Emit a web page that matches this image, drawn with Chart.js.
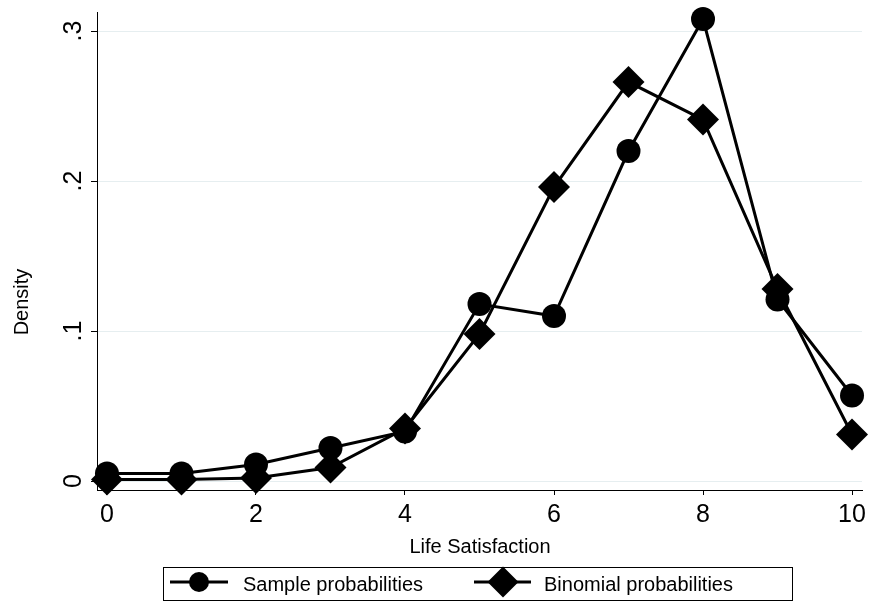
<!DOCTYPE html>
<html>
<head>
<meta charset="utf-8">
<script src="https://cdn.jsdelivr.net/npm/chart.js@4"></script>
<style>
html, body { margin: 0; padding: 0; background: #fff; }
#wrap { width: 869px; height: 601px; }
</style>
</head>
<body>
<div id="wrap"><canvas id="chart" width="869" height="601"></canvas></div>
<script>
const satisfaction = [0, 1, 2, 3, 4, 5, 6, 7, 8, 9, 10];
const sampleProbs = [0.005, 0.005, 0.011, 0.022, 0.033, 0.118, 0.110, 0.220, 0.308, 0.121, 0.057];
const binomialProbs = [0.001, 0.001, 0.002, 0.009, 0.035, 0.098, 0.196, 0.266, 0.241, 0.128, 0.031];
const xTicks = [0, 2, 4, 6, 8, 10];
const yTicks = [0, 0.1, 0.2, 0.3];
const yTickLabels = ['0', '.1', '.2', '.3'];
const seriesNames = ['Sample probabilities', 'Binomial probabilities'];

const FONT = '"Liberation Sans", Arial, Helvetica, sans-serif';

// stata-ish text: rotated y labels, axis titles, boxed legend
const stataText = {
    id: 'stataText',
    afterDraw(chart) {
        const ctx = chart.ctx;
        const yScale = chart.scales.y;
        ctx.save();
        ctx.fillStyle = '#000';
        ctx.strokeStyle = '#000';
        ctx.textAlign = 'center';
        ctx.textBaseline = 'alphabetic';

        ctx.font = '25px ' + FONT;
        yTicks.forEach((v, i) => {
            ctx.save();
            ctx.translate(81, yScale.getPixelForValue(v));
            ctx.rotate(-Math.PI / 2);
            ctx.fillText(yTickLabels[i], 0, 0);
            ctx.restore();
        });

        ctx.font = '20px ' + FONT;
        ctx.save();
        ctx.translate(28, 302);
        ctx.rotate(-Math.PI / 2);
        ctx.fillText('Density', 0, 0);
        ctx.restore();
        ctx.fillText('Life Satisfaction', 480, 553);

        // legend box
        ctx.lineWidth = 1;
        ctx.strokeRect(163.5, 567.5, 629, 33);
        const ly = 582;
        ctx.lineWidth = 3;
        ctx.beginPath();
        ctx.moveTo(170, ly); ctx.lineTo(228, ly);
        ctx.moveTo(474, ly); ctx.lineTo(531, ly);
        ctx.stroke();
        ctx.beginPath();
        ctx.arc(199, ly, 10, 0, Math.PI * 2);
        ctx.fill();
        ctx.beginPath();
        ctx.moveTo(503, ly - 15.5);
        ctx.lineTo(518.5, ly);
        ctx.lineTo(503, ly + 15.5);
        ctx.lineTo(487.5, ly);
        ctx.closePath();
        ctx.fill();
        ctx.textAlign = 'left';
        ctx.fillText(seriesNames[0], 243, 591);
        ctx.fillText(seriesNames[1], 544, 591);
        ctx.restore();
    }
};

const ctx = document.getElementById('chart').getContext('2d');
const chart = new Chart(ctx, {
    type: 'line',
    data: {
        datasets: [{
            label: seriesNames[0],
            data: satisfaction.map((s, i) => ({ x: s, y: sampleProbs[i] })),
            borderColor: '#000',
            backgroundColor: '#000',
            borderWidth: 3,
            pointStyle: 'circle',
            pointRadius: 12,
            pointBorderWidth: 0,
            tension: 0,
            clip: false
        }, {
            label: seriesNames[1],
            data: satisfaction.map((s, i) => ({ x: s, y: binomialProbs[i] })),
            borderColor: '#000',
            backgroundColor: '#000',
            borderWidth: 3,
            pointStyle: 'rectRot',
            pointRadius: 16,
            pointBorderWidth: 0,
            tension: 0,
            clip: false
        }]
    },
    options: {
        responsive: false,
        animation: false,
        layout: { autoPadding: false, padding: { top: 12, right: 7, left: 0, bottom: 0 } },
        scales: {
            x: {
                type: 'linear',
                min: -0.134,
                max: 10.134,
                afterBuildTicks: scale => { scale.ticks = xTicks.map(v => ({ value: v })); },
                afterFit: scale => {
                    scale.height = 111;
                    scale.paddingLeft = 0;
                    scale.paddingRight = 0;
                },
                grid: { drawOnChartArea: false, drawTicks: true, tickLength: 5, tickColor: '#000' },
                border: { display: true, color: '#000', width: 1 },
                ticks: {
                    autoSkip: false,
                    maxRotation: 0,
                    padding: 5,
                    color: '#000',
                    font: { family: FONT, size: 25 },
                    callback: v => String(v)
                }
            },
            y: {
                type: 'linear',
                min: -0.006,
                max: 0.3127,
                afterBuildTicks: scale => { scale.ticks = yTicks.map(v => ({ value: v })); },
                afterFit: scale => {
                    scale.width = 97;
                    scale.paddingTop = 0;
                    scale.paddingBottom = 0;
                },
                grid: { color: '#e6eef0', drawTicks: true, tickLength: 6, tickColor: '#000' },
                border: { display: true, color: '#000', width: 1 },
                ticks: { display: false }
            }
        },
        plugins: {
            legend: { display: false },
            tooltip: { enabled: false }
        }
    },
    plugins: [stataText]
});
</script>
</body>
</html>
